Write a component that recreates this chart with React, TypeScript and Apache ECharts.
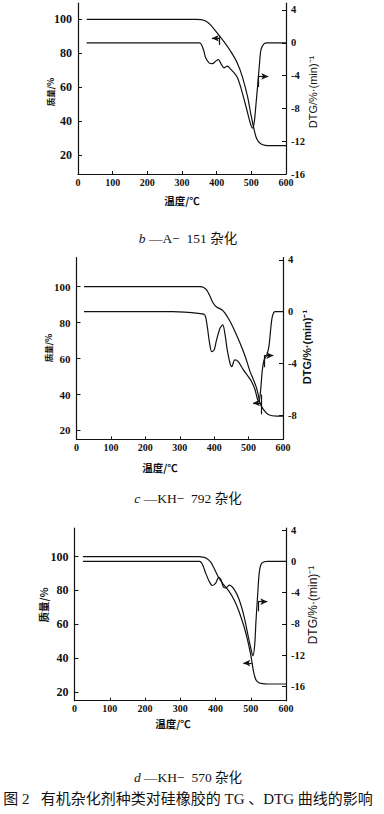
import React, { useEffect, useRef } from "react";
import * as echarts from "echarts";

// ---------- data ----------
const tempTicks = [0, 100, 200, 300, 400, 500, 600];
const massTicks = [20, 40, 60, 80, 100];
const dtgTicksB = [4, 0, -4, -8, -12, -16];
const dtgTicksC = [4, 0, -4, -8];
const dtgTicksD = [4, 0, -4, -8, -12, -16];

// panel b (A-151)
const tgB = [
  [25, 100], [340, 100], [355, 99.8], [368, 99], [383, 96.6], [402, 91.8], [421, 86.8],
  [441, 80.9], [460, 74], [474, 66.2], [489, 54.5], [498, 44.7], [506, 36.8], [513, 30.9],
  [520, 28], [528, 26.5], [540, 25.7], [555, 25.5], [600, 25.5],
];
const dtgB = [
  [25, 0], [350, 0], [356, -0.2], [363, -1.0], [368, -1.8], [378, -2.45], [388, -2.55],
  [397, -2.25], [405, -2.05], [413, -2.6], [421, -3.05], [431, -2.85], [441, -3.25],
  [450, -3.65], [460, -4.25], [470, -5.5], [479, -6.9], [489, -8.5], [497, -9.8],
  [503, -10.4], [508, -9.8], [513, -7.7], [518, -5.3], [523, -2.85], [528, -0.8],
  [537, -0.1], [547, 0], [600, 0],
];
const tgArrowB = { from: [408, 88.8], to: [386, 88.8], tick: [[408, 89.8], [408, 84.9]] };
const dtgArrowB = { from: [520, -4.1], to: [549, -4.1], tick: [[520, -4.1], [520, -5.4]] };

// panel c (KH-792)
const tgC = [
  [22, 100], [360, 100], [368, 99.7], [378, 98.2], [388, 94.6], [397, 90.9], [407, 88.7],
  [422, 87.2], [431, 85.4], [446, 80.7], [460, 75.2], [475, 68.7], [490, 61.3], [504, 52.9],
  [514, 48.3], [523, 43.7], [528, 40], [533, 35.4], [543, 31.7], [557, 28.9], [582, 28],
  [600, 28],
];
const dtgC = [
  [22, 0], [280, 0], [360, -0.15], [373, -0.26], [380, -1.16], [386, -2.32], [393, -3.1],
  [400, -2.96], [407, -2.19], [417, -1.28], [425, -1.03], [431, -1.67], [438, -2.96],
  [446, -3.99], [451, -4.26], [460, -3.74], [470, -3.87], [485, -4.51], [499, -5.03],
  [509, -5.42], [519, -6.06], [525, -6.7], [530, -6.96], [535, -6.06], [540, -4.51],
  [545, -3.74], [553, -3.35], [559, -2.71], [564, -1.42], [569, -0.39], [577, 0], [600, 0],
];
const tgArrowC = { from: [537, 35.3], to: [513, 35.3], tick: [[537, 40], [537, 29]] };
const dtgArrowC = { from: [545, -3.4], to: [572, -3.4], tick: [[545, -3.4], [545, -4.3]] };

// panel d (KH-570)
const tgD = [
  [24, 100], [355, 100], [365, 99.7], [372, 99.4], [386, 97], [396, 93.1], [410, 87.2],
  [424, 83.2], [439, 79.3], [453, 74.3], [467, 67.4], [481, 58.5], [491, 50.6], [501, 40.7],
  [508, 31.8], [515, 26.9], [522, 25.5], [529, 25], [548, 24.6], [600, 24.6],
];
const dtgD = [
  [24, 0], [355, 0], [363, -0.4], [372, -1.5], [382, -2.55], [391, -3.1], [401, -2.75],
  [409, -2.05], [416, -2.4], [423, -3.35], [430, -3.4], [439, -3.05], [453, -3.6],
  [467, -4.9], [481, -7.05], [491, -9.2], [501, -11.3], [506, -12.1], [511, -10.8],
  [515, -7.5], [520, -4.05], [524, -1.5], [529, -0.42], [538, -0.05], [548, 0], [600, 0],
];
const tgArrowD = { from: [503, 37], to: [479, 37], tick: null as null | number[][] };
const dtgArrowD = { from: [521, -5.17], to: [547, -5.17], tick: [[521, -5.17], [521, -6.4]] };

const panelLetters = ["b", "c", "d"];
const panelNames = ["—A−  151 杂化", "—KH−  792 杂化", "—KH−  570 杂化"];
const massAxisName = "质量/%";
const dtgAxisName = "DTG/%·(min)⁻¹";
const tempAxisName = "温度/℃";
const figureCaption = "图 2   有机杂化剂种类对硅橡胶的 TG 、DTG 曲线的影响";

// ---------- layout ----------
const serif = '"Liberation Serif", "Times New Roman", "Noto Sans CJK SC", serif';
const sans = '"Liberation Sans", Arial, sans-serif';
const cjk = '"Noto Sans CJK SC", sans-serif';

const panels = [
  {
    grid: { left: 78, top: 3, width: 208, height: 171 },
    leftRange: [8.8, 109.6], rightRange: [-16, 4.85], rightTicks: dtgTicksB,
    tg: tgB, dtg: dtgB, tgArrow: tgArrowB, dtgArrow: dtgArrowB,
    leftFont: 12, xFont: 10,
    massName: { x: 50, y: 92, size: 8.5 }, dtgName: { x: 313, y: 92, size: 11, bold: false },
    tempName: { x: 182, y: 200, size: 10.5 }, caption: { x: 188, y: 238 },
  },
  {
    grid: { left: 76.5, top: 257.5, width: 206.5, height: 181.8 },
    leftRange: [15.1, 116.2], rightRange: [-9.88, 4.19], rightTicks: dtgTicksC,
    tg: tgC, dtg: dtgC, tgArrow: tgArrowC, dtgArrow: dtgArrowC,
    leftFont: 11, xFont: 10,
    massName: { x: 48, y: 348, size: 8.5 }, dtgName: { x: 307, y: 347, size: 11, bold: true },
    tempName: { x: 160, y: 467, size: 10.5 }, caption: { x: 188, y: 498 },
  },
  {
    grid: { left: 74.5, top: 528, width: 211.5, height: 172.7 },
    leftRange: [14.7, 117], rightRange: [-17.84, 4.26], rightTicks: dtgTicksD,
    tg: tgD, dtg: dtgD, tgArrow: tgArrowD, dtgArrow: dtgArrowD,
    leftFont: 12, xFont: 10,
    massName: { x: 43, y: 605, size: 10.5 }, dtgName: { x: 313, y: 605, size: 12, bold: false },
    tempName: { x: 173, y: 723, size: 10.5 }, caption: { x: 188, y: 777 },
  },
];

const black = "#111";
const axisLine = { show: true, onZero: false, lineStyle: { color: black, width: 1.2 } };

function arrowMarkLine(arrow: any) {
  const data: any[] = [
    [
      { coord: arrow.from, symbol: "none" },
      { coord: arrow.to, symbol: "arrow", symbolSize: [5, 7] },
    ],
  ];
  if (arrow.tick) {
    data.push([
      { coord: arrow.tick[0], symbol: "none" },
      { coord: arrow.tick[1], symbol: "none" },
    ]);
  }
  return {
    silent: true,
    animation: false,
    label: { show: false },
    lineStyle: { color: black, width: 1.2, type: "solid" },
    emphasis: { disabled: true },
    data,
  };
}

export default function App() {
  const ref = useRef<HTMLDivElement>(null);
  useEffect(() => {
    if (!ref.current) return;
    const chart = echarts.init(ref.current, undefined, { renderer: "svg" });
    const grid: any[] = [];
    const xAxis: any[] = [];
    const yAxis: any[] = [];
    const series: any[] = [];
    const graphic: any[] = [];

    panels.forEach((p, i) => {
      grid.push({ ...p.grid, containLabel: false });
      xAxis.push({
        type: "value", gridIndex: i, min: 0, max: 600, interval: 100,
        axisLine, splitLine: { show: false },
        axisTick: { show: true, inside: true, length: 3, lineStyle: { color: black } },
        axisLabel: {
          color: black, fontFamily: serif, fontWeight: "bold", fontSize: p.xFont, margin: 3,
          customValues: tempTicks,
        },
      });
      yAxis.push({
        type: "value", gridIndex: i, position: "left", min: p.leftRange[0], max: p.leftRange[1],
        axisLine, splitLine: { show: false },
        axisTick: { show: true, inside: true, length: 4, customValues: massTicks, lineStyle: { color: black } },
        axisLabel: {
          color: black, fontFamily: serif, fontWeight: "bold", fontSize: p.leftFont, margin: 6,
          customValues: massTicks,
        },
      });
      yAxis.push({
        type: "value", gridIndex: i, position: "right", min: p.rightRange[0], max: p.rightRange[1],
        axisLine, splitLine: { show: false },
        axisTick: { show: true, inside: true, length: 4, customValues: p.rightTicks, lineStyle: { color: black } },
        axisLabel: {
          color: black, fontFamily: serif, fontWeight: "bold", fontSize: 10.5, margin: 5,
          customValues: p.rightTicks,
        },
      });
      const lineStyle = { color: black, width: 1.2 };
      series.push({
        type: "line", xAxisIndex: i, yAxisIndex: i * 2, data: p.tg, showSymbol: false,
        smooth: 0.3, lineStyle, silent: true, markLine: arrowMarkLine(p.tgArrow),
      });
      series.push({
        type: "line", xAxisIndex: i, yAxisIndex: i * 2 + 1, data: p.dtg, showSymbol: false,
        smooth: 0.3, lineStyle, silent: true, markLine: arrowMarkLine(p.dtgArrow),
      });

      graphic.push({
        type: "text", x: p.massName.x, y: p.massName.y, rotation: Math.PI / 2,
        style: {
          text: massAxisName, fill: black, fontFamily: cjk, fontWeight: "bold",
          fontSize: p.massName.size, align: "center", verticalAlign: "middle",
        },
      });
      graphic.push({
        type: "text", x: p.dtgName.x, y: p.dtgName.y, rotation: Math.PI / 2,
        style: {
          text: dtgAxisName, fill: black, fontFamily: sans,
          fontWeight: p.dtgName.bold ? "bold" : "normal",
          fontSize: p.dtgName.size, align: "center", verticalAlign: "middle",
        },
      });
      graphic.push({
        type: "text", x: p.tempName.x, y: p.tempName.y,
        style: {
          text: tempAxisName, fill: black, fontFamily: cjk, fontWeight: "bold",
          fontSize: p.tempName.size, align: "center", verticalAlign: "middle",
        },
      });
      graphic.push({
        type: "text", x: p.caption.x, y: p.caption.y,
        style: {
          text: `{i|${panelLetters[i]}} {n|${panelNames[i]}}`,
          fill: black, align: "center", verticalAlign: "middle",
          rich: {
            i: { fontFamily: serif, fontStyle: "italic", fontSize: 13.5, fill: black },
            n: { fontFamily: serif, fontSize: 13.5, fill: black },
          },
        },
      });
    });

    graphic.push({
      type: "text", x: 188, y: 799,
      style: {
        text: figureCaption, fill: black, fontFamily: serif, fontSize: 15,
        align: "center", verticalAlign: "middle",
      },
    });

    chart.setOption({
      animation: false,
      backgroundColor: "#fff",
      grid, xAxis, yAxis, series, graphic,
    });
    return () => chart.dispose();
  }, []);

  return (
    <div
      ref={ref}
      style={{ position: "absolute", left: 0, top: 0, width: 384, height: 814, background: "#fff" }}
    />
  );
}
